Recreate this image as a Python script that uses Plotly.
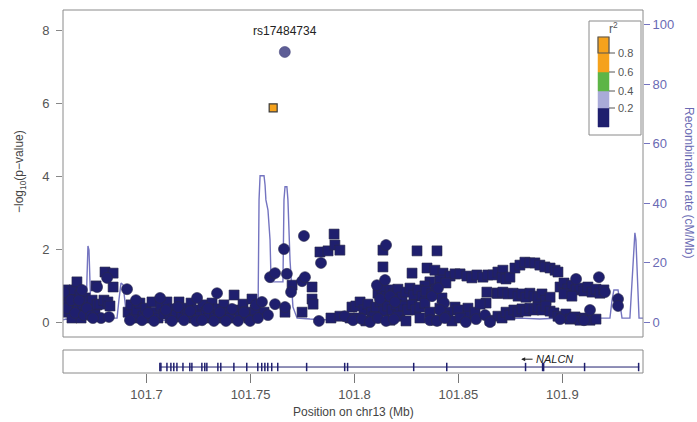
import plotly.graph_objects as go

# ---------------- data ----------------
# square-marker SNPs (position Mb, -log10 p)
sq_mb = [101.6608, 101.6608, 101.6613, 101.6622, 101.6632, 101.6641, 101.6651, 101.6661, 101.6665, 101.6670,
         101.6680, 101.6685, 101.6694, 101.6704, 101.6709, 101.6718, 101.6728, 101.6738, 101.6752, 101.6762,
         101.6776, 101.6795, 101.6814, 101.6824, 101.6839, 101.6800, 101.6839, 101.6757,
         101.6911, 101.6925, 101.6940, 101.6954, 101.6968, 101.6983, 101.6997, 101.7012, 101.7026, 101.7041,
         101.7055, 101.7069, 101.7084, 101.7098, 101.7113, 101.7127, 101.7142, 101.7156, 101.7170, 101.7185,
         101.7199, 101.7214, 101.7228, 101.7243, 101.7257, 101.7271, 101.7286, 101.7300, 101.7315, 101.7329,
         101.7344, 101.7358, 101.7372, 101.7387, 101.7401, 101.7421, 101.7435, 101.7449, 101.7464, 101.7478,
         101.7493, 101.7507, 101.7522,
         101.7565, 101.7666, 101.7700, 101.7796, 101.7796, 101.7801, 101.7748, 101.7834, 101.7873, 101.7902,
         101.7906, 101.7930, 101.7887, 101.7930, 101.7988, 101.7979,
         101.8137, 101.8301, 101.8397, 101.8137, 101.8277,
         101.8349, 101.8387, 101.8426, 101.8460, 101.8484, 101.8508, 101.8541, 101.8565, 101.8589, 101.8618,
         101.8642, 101.8666, 101.8690, 101.8714, 101.8411, 101.8440, 101.8363, 101.8339,
         101.8113, 101.8132, 101.8152, 101.8171, 101.8190, 101.8209, 101.8229, 101.8248, 101.8267, 101.8286,
         101.8306, 101.8325, 101.8344, 101.8373, 101.8392, 101.8421,
         101.8637, 101.8685, 101.8633, 101.8484, 101.8546, 101.8541,
         101.8007, 101.8027, 101.8046, 101.8065, 101.8084, 101.8104, 101.8123, 101.8142, 101.8161, 101.8181,
         101.8200, 101.8219, 101.8238, 101.8257, 101.8277, 101.8296, 101.8315, 101.8339, 101.8363, 101.8411,
         101.8450, 101.8498, 101.8580, 101.8604,
         101.8017, 101.8055, 101.8094, 101.8171, 101.8209, 101.8248, 101.8315, 101.8392, 101.8431, 101.8469,
         101.8508, 101.8652, 101.8690,
         101.8710, 101.8729, 101.8748, 101.8772, 101.8796, 101.8820, 101.8844, 101.8868, 101.8892, 101.8916,
         101.8941, 101.8965, 101.8979,
         101.8690, 101.8714, 101.8738, 101.8763, 101.8787, 101.8806, 101.8825, 101.8844, 101.8864, 101.8883,
         101.8902, 101.8921, 101.8941,
         101.8710, 101.8729, 101.8748, 101.8767, 101.8787, 101.8806, 101.8825, 101.8844, 101.8864, 101.8883,
         101.8902, 101.8921, 101.8941, 101.8960, 101.8979, 101.8998, 101.9017, 101.9037, 101.9061, 101.9085,
         101.9109, 101.9133, 101.9162,
         101.8989, 101.9008, 101.9027, 101.9046, 101.9066, 101.9085, 101.9104, 101.9123, 101.9143, 101.9162,
         101.9181, 101.9200, 101.9008, 101.9046]
sq_logp = [0.88, 0.60, 0.27, 0.47, 0.74, 0.11, 0.88, 0.60, 1.10, 0.33,
           0.74, 0.11, 0.47, 0.66, 0.27, 0.55, 0.33, 0.60, 0.27, 0.47,
           0.49, 0.60, 0.55, 0.44, 0.96, 1.37, 1.34, 0.99,
           0.27, 0.47, 0.11, 0.33, 0.52, 0.16, 0.38, 0.11, 0.55, 0.27,
           0.11, 0.44, 0.22, 0.55, 0.11, 0.36, 0.19, 0.55, 0.14, 0.38,
           0.22, 0.52, 0.11, 0.33, 0.16, 0.47, 0.27, 0.11, 0.52, 0.22,
           0.36, 0.11, 0.47, 0.25, 0.11, 0.74, 0.33, 0.16, 0.49, 0.27,
           0.11, 0.63, 0.33,
           0.27, 0.27, 1.01, 0.96, 0.63, 0.49, 0.27, 1.92, 1.95, 2.41,
           2.11, 1.97, 0.11, 0.16, 0.41, 0.11,
           1.97, 1.95, 1.95, 1.51, 1.34,
           1.48, 1.42, 1.34, 1.26, 1.32, 1.32, 1.26, 1.21, 1.29, 1.23,
           1.29, 1.29, 1.37, 1.42, 1.15, 1.07, 1.10, 0.99,
           0.79, 0.93, 0.71, 0.88, 0.77, 0.90, 0.68, 0.82, 0.93, 0.74,
           0.88, 0.71, 0.85, 0.77, 0.90, 0.66,
           0.82, 0.79, 0.52, 0.41, 0.38, 0.16,
           0.44, 0.55, 0.33, 0.49, 0.27, 0.41, 0.55, 0.30, 0.44, 0.33,
           0.47, 0.27, 0.44, 0.33, 0.47, 0.33, 0.41, 0.52, 0.27, 0.38,
           0.27, 0.33, 0.27, 0.49,
           0.11, 0.03, 0.14, 0.05, 0.16, 0.03, 0.11, 0.05, 0.16, 0.03,
           0.11, 0.05, 0.16,
           1.21, 1.18, 1.23, 1.48, 1.56, 1.64, 1.62, 1.62, 1.56, 1.51,
           1.48, 1.42, 1.37,
           0.79, 0.82, 0.77, 0.79, 0.71, 0.77, 0.68, 0.79, 0.71, 0.66,
           0.77, 0.60, 0.68,
           0.11, 0.27, 0.19, 0.33, 0.27, 0.36, 0.30, 0.38, 0.33, 0.41,
           0.33, 0.44, 0.30, 0.25, 0.16, 0.11, 0.22, 0.08, 0.14, 0.05,
           0.11, 0.05, 0.08,
           0.96, 1.07, 0.90, 1.01, 0.88, 0.93, 0.85, 0.96, 0.82, 0.90,
           0.79, 0.88, 0.77, 0.71]

# circle-marker SNPs
ci_mb = [101.6603, 101.6617, 101.6637, 101.6656, 101.6675, 101.6689, 101.6699, 101.6713, 101.6733, 101.6762,
         101.6810, 101.6781, 101.6819, 101.6906, 101.6742,
         101.6920, 101.6949, 101.6978, 101.7007, 101.7036, 101.7065, 101.7093, 101.7122, 101.7151, 101.7180,
         101.7209, 101.7238, 101.7243, 101.7267, 101.7295, 101.7324, 101.7339, 101.7353, 101.7382, 101.7411,
         101.7440, 101.7469, 101.7498, 101.7526, 101.7555, 101.7536,
         101.7594, 101.7618, 101.7618, 101.7661, 101.7675, 101.7695, 101.7666, 101.7748, 101.7762, 101.7757,
         101.7839, 101.7829, 101.7954, 101.7584,
         101.8152, 101.8108, 101.8123, 101.8147, 101.8171, 101.8195, 101.8373, 101.8402, 101.8431, 101.8411,
         101.7993, 101.8036, 101.8075, 101.8113, 101.8152, 101.8190, 101.8363, 101.8397, 101.8435, 101.8536,
         101.8585, 101.8628, 101.8652,
         101.9066, 101.9176, 101.9205, 101.9268, 101.9268, 101.9133, 101.9046, 101.9104, 101.8989]
ci_logp = [0.82, 0.38, 0.60, 0.25, 0.60, 0.88, 0.19, 0.38, 0.16, 0.96,
           1.21, 0.11, 0.14, 0.90, 0.11,
           0.05, 0.60, 0.05, 0.25, 0.03, 0.66, 0.33, 0.03, 0.41, 0.05,
           0.30, 0.03, 0.66, 0.05, 0.38, 0.03, 0.79, 0.27, 0.03, 0.36,
           0.03, 0.27, 0.03, 0.47, 0.55, 0.11,
           1.23, 1.34, 0.49, 2.00, 1.32, 0.82, 0.41, 1.12, 1.23, 2.36,
           1.62, 0.03, 0.16, 0.19,
           2.11, 1.01, 0.63, 1.15, 0.71, 0.55, 0.71, 0.93, 0.52, 0.33,
           0.05, 0.08, 0.00, 0.11, 0.03, 0.08, 0.05, 0.03, 0.11, 0.00,
           0.08, 0.19, 0.00,
           1.18, 1.23, 0.82, 0.63, 0.44, 0.33, 0.11, 0.05, 0.08]

# highlighted SNPs
lead_snp = "rs17484734"
lead_mb, lead_logp = 101.7665, 7.40
ld_mb, ld_logp = 101.7609, 5.87

# recombination rate (cM/Mb)
rec_mb = [101.6598, 101.6612, 101.6632, 101.6651, 101.6661, 101.6670, 101.6680, 101.6694, 101.6704, 101.6709,
          101.6713, 101.6718, 101.6723, 101.6728, 101.6733, 101.6752, 101.6776, 101.6824, 101.6858, 101.6867,
          101.6877, 101.6887, 101.6896, 101.6906, 101.6968, 101.7065, 101.7161, 101.7257, 101.7353, 101.7449,
          101.7522, 101.7536, 101.7541, 101.7546, 101.7565, 101.7570, 101.7574, 101.7584, 101.7594, 101.7599,
          101.7656, 101.7661, 101.7666, 101.7675, 101.7680, 101.7690, 101.7704, 101.7724, 101.7786, 101.7882,
          101.7979, 101.8075, 101.8108, 101.8113, 101.8219, 101.8339, 101.8344, 101.8411, 101.8508, 101.8604,
          101.8700, 101.8796, 101.8892, 101.8989, 101.9085, 101.9181, 101.9229, 101.9239, 101.9248, 101.9268,
          101.9277, 101.9287, 101.9325, 101.9335, 101.9345, 101.9349, 101.9354, 101.9364, 101.9369, 101.9388]
rec_rate = [0.7, 1.0, 0.7, 1.3, 0.7, 2.0, 1.3, 2.7, 2.0, 2.0,
            14.1, 25.6, 24.2, 10.8, 2.0, 1.3, 1.7, 1.3, 1.3, 7.4,
            13.1, 12.5, 5.7, 0.7, 0.3, 0.7, 0.3, 0.7, 0.3, 0.7,
            0.7, 1.3, 41.1, 49.2, 49.2, 46.1, 41.1, 37.7, 27.6, 13.5,
            13.5, 41.1, 45.5, 45.5, 41.1, 20.9, 5.1, 1.3, 1.0, 0.7,
            1.0, 0.7, 0.7, 9.8, 9.8, 9.8, 0.7, 1.0, 0.7, 1.3,
            1.0, 1.3, 1.0, 1.3, 1.7, 1.3, 1.3, 7.4, 10.8, 10.8,
            5.7, 1.3, 1.3, 14.1, 27.6, 30.0, 27.6, 7.4, 1.3, 1.3]

# gene track
gene_name = "NALCN"
gene_start, gene_end = 101.7064, 101.9370
exon_mb = [101.7064, 101.7069, 101.7098, 101.7117, 101.7131, 101.7146, 101.7175, 101.7208, 101.7218, 101.7266,
           101.7280, 101.7290, 101.7343, 101.7357, 101.7420, 101.7482, 101.7535, 101.7554, 101.7569, 101.7583,
           101.7602, 101.7631, 101.7770, 101.7953, 101.7967, 101.8285, 101.8444, 101.8823, 101.8905, 101.8910,
           101.9107, 101.9367]

x_ticks = [101.7, 101.75, 101.8, 101.85, 101.9]
x_tick_labels = ["101.7", "101.75", "101.8", "101.85", "101.9"]
y_ticks = [0, 2, 4, 6, 8]
rec_ticks = [0, 20, 40, 60, 80, 100]

r2_breaks = [0.2, 0.4, 0.6, 0.8]
r2_colors = ["#1f1f6e", "#a9abd8", "#5db547", "#f5a21c", "#f5a21c"]

# ---------------- styling ----------------
NAVY = "#1f1f6e"
REC = "#7474c0"
FONT = "Liberation Sans, Arial, sans-serif"
W, H = 697, 422
ML, MR, MT, MB = 63, 54, 10, 49
PW = W - ML - MR
PH = H - MT - MB


def px2paper_x(px):
    return (px - ML) / PW


def px2paper_y(py):
    return (H - MB - py) / PH


main_bottom = px2paper_y(337)
gene_top = px2paper_y(350)

fig = go.Figure()

# recombination line (base axis -> drawn beneath points)
fig.add_trace(go.Scatter(x=rec_mb, y=rec_rate, mode="lines", xaxis="x", yaxis="y",
                         line=dict(color=REC, width=1.4), hoverinfo="skip", showlegend=False))

# SNP points (overlay axis)
fig.add_trace(go.Scatter(x=sq_mb, y=sq_logp, mode="markers", xaxis="x", yaxis="y2",
                         marker=dict(symbol="square", size=10, color=NAVY,
                                     line=dict(color="#2a2a4a", width=0.6)), showlegend=False))
fig.add_trace(go.Scatter(x=ci_mb, y=ci_logp, mode="markers", xaxis="x", yaxis="y2",
                         marker=dict(symbol="circle", size=11, color=NAVY,
                                     line=dict(color="#2a2a4a", width=0.6)), showlegend=False))
fig.add_trace(go.Scatter(x=[ld_mb], y=[ld_logp], mode="markers", xaxis="x", yaxis="y2",
                         marker=dict(symbol="square", size=8, color="#f5a21c",
                                     line=dict(color="#3a3a3a", width=1.2)), showlegend=False))
fig.add_trace(go.Scatter(x=[lead_mb], y=[lead_logp], mode="markers", xaxis="x", yaxis="y2",
                         marker=dict(symbol="circle", size=11, color="#5d5d96",
                                     line=dict(color="#45457a", width=0.6)), showlegend=False))

# gene track
fig.add_trace(go.Scatter(x=[gene_start, gene_end], y=[0.26, 0.26], mode="lines", xaxis="x2", yaxis="y3",
                         line=dict(color=NAVY, width=1), hoverinfo="skip", showlegend=False))
fig.add_trace(go.Scatter(x=exon_mb, y=[0.26] * len(exon_mb), mode="markers", xaxis="x2", yaxis="y3",
                         marker=dict(symbol="line-ns", size=6, line=dict(color=NAVY, width=1.5)),
                         hoverinfo="skip", showlegend=False))

xr = [101.6598, 101.9388]
fig.update_layout(
    width=W, height=H, margin=dict(l=ML, r=MR, t=MT, b=MB, autoexpand=False),
    paper_bgcolor="white", plot_bgcolor="white", showlegend=False,
    font=dict(family=FONT, size=13, color="#555"),
    xaxis=dict(domain=[0, 1], range=xr, anchor="y", showticklabels=False, ticks="",
               showgrid=False, zeroline=False, showline=False, automargin=False),
    yaxis=dict(domain=[main_bottom, 1], range=[-5.04, 105.0], side="right", anchor="x",
               tickvals=rec_ticks, ticks="outside", ticklen=6, tickcolor=REC,
               tickfont=dict(color="#6a6ab4", size=13, family=FONT), automargin=False,
               showgrid=False, zeroline=False, showline=False),
    yaxis2=dict(overlaying="y", side="left", range=[-0.41, 8.55], anchor="x",
                tickvals=y_ticks, ticks="outside", ticklen=6, tickcolor="#888",
                ticklabelstandoff=4,
                tickfont=dict(color="#555", size=13, family=FONT), automargin=False,
                showgrid=False, zeroline=False, showline=False),
    xaxis2=dict(domain=[0, 1], range=xr, anchor="y3", tickvals=x_ticks, ticktext=x_tick_labels,
                ticks="outside", ticklen=9, tickcolor="#777", automargin=False,
                tickfont=dict(color="#555", size=13, family=FONT),
                showgrid=False, zeroline=False, showline=False),
    yaxis3=dict(domain=[0, gene_top], range=[0, 1], visible=False),
)

shapes = [
    dict(type="rect", xref="paper", yref="paper", x0=0, x1=1, y0=main_bottom, y1=1,
         line=dict(color="#8a8a8a", width=1)),
    dict(type="rect", xref="paper", yref="paper", x0=0, x1=1, y0=0, y1=gene_top,
         line=dict(color="#8a8a8a", width=1)),
    # legend box
    dict(type="rect", xref="paper", yref="paper", x0=px2paper_x(589), x1=px2paper_x(641),
         y0=px2paper_y(135), y1=px2paper_y(21), line=dict(color="#8a8a8a", width=1),
         fillcolor="white"),
]
# r2 colour boxes: bottom (0-0.2) to top (0.8-1.0)
seg_px = [127, 108, 91, 72, 53, 37]
for i, col in enumerate(r2_colors):
    shapes.append(dict(type="rect", xref="paper", yref="paper",
                       x0=px2paper_x(598), x1=px2paper_x(609),
                       y0=px2paper_y(seg_px[i]), y1=px2paper_y(seg_px[i + 1]),
                       fillcolor=col, line=dict(color=col, width=0.5)))
shapes.append(dict(type="rect", xref="paper", yref="paper",
                   x0=px2paper_x(598), x1=px2paper_x(609),
                   y0=px2paper_y(53), y1=px2paper_y(37),
                   fillcolor="rgba(0,0,0,0)", line=dict(color="#555", width=1.2)))

annotations = []
for i, b in enumerate(r2_breaks):
    py = seg_px[i + 1]
    shapes.append(dict(type="line", xref="paper", yref="paper",
                       x0=px2paper_x(609), x1=px2paper_x(615),
                       y0=px2paper_y(py), y1=px2paper_y(py), line=dict(color="#555", width=1)))
    annotations.append(dict(xref="paper", yref="paper", x=px2paper_x(616), y=px2paper_y(py),
                            text=f"{b:.1f}", showarrow=False, xanchor="left", yanchor="middle",
                            font=dict(family=FONT, size=11, color="#555")))
annotations.append(dict(xref="paper", yref="paper", x=px2paper_x(613), y=px2paper_y(28),
                        text="r<sup>2</sup>", showarrow=False, xanchor="center", yanchor="middle",
                        font=dict(family=FONT, size=12, color="#555")))

# lead SNP label
annotations.append(dict(xref="x", yref="y2", x=lead_mb, y=lead_logp, yshift=21,
                        text=lead_snp, showarrow=False, xanchor="center", yanchor="middle",
                        font=dict(family=FONT, size=12, color="#222")))

# axis titles
annotations.append(dict(xref="paper", yref="paper", x=px2paper_x(20), y=px2paper_y(172),
                        text="\u2212log<sub>10</sub>(p\u2212value)", textangle=-90, showarrow=False,
                        xanchor="center", yanchor="middle",
                        font=dict(family=FONT, size=12, color="#444")))
annotations.append(dict(xref="paper", yref="paper", x=px2paper_x(689), y=px2paper_y(182),
                        text="Recombination rate (cM/Mb)", textangle=90, showarrow=False,
                        xanchor="center", yanchor="middle",
                        font=dict(family=FONT, size=12, color="#6a6ab4")))
annotations.append(dict(xref="paper", yref="paper", x=0.5, y=px2paper_y(412),
                        text="Position on chr13 (Mb)", showarrow=False,
                        xanchor="center", yanchor="middle",
                        font=dict(family=FONT, size=12, color="#444")))

# gene label with direction arrow
annotations.append(dict(xref="x2", yref="y3", x=101.8866, y=0.6,
                        text="<i>" + gene_name + "</i>", showarrow=False,
                        xanchor="left", yanchor="middle",
                        font=dict(family=FONT, size=11, color="#222")))
annotations.append(dict(xref="x2", yref="y3", x=101.8802, y=0.6, ax=101.8864, ay=0.6,
                        axref="x2", ayref="y3", text="", showarrow=True,
                        arrowhead=2, arrowsize=0.8, arrowwidth=1, arrowcolor="#222"))

fig.update_layout(shapes=shapes, annotations=annotations)
fig.write_html("out.html", config={"displayModeBar": False},
               post_script="document.body.style.margin='0';document.body.style.padding='0';")
